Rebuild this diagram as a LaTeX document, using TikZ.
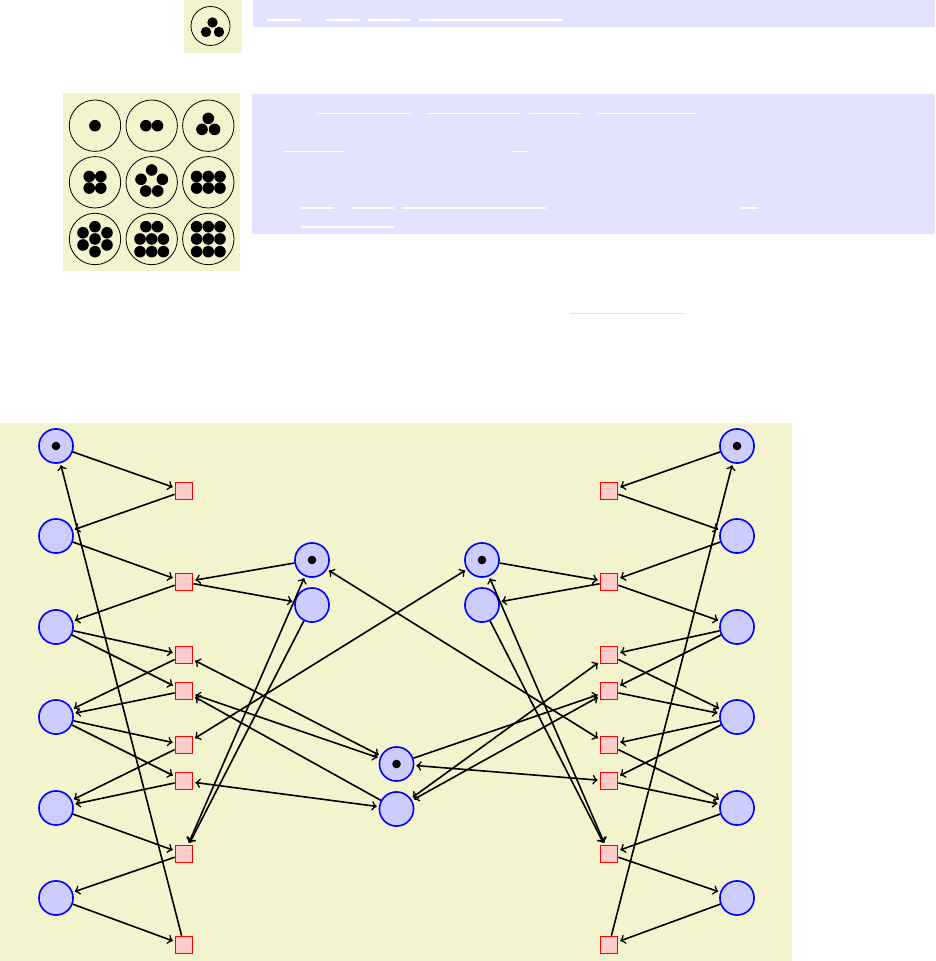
\documentclass[tikz,border=0pt]{standalone}
\usepackage{tikz}
\usetikzlibrary{petri,arrows}
\usepackage{xcolor}
\definecolor{pagebg}{RGB}{243,244,206}
\definecolor{codebg}{RGB}{227,227,255}
\definecolor{rulegray}{RGB}{225,225,225}
\tikzset{
  >=to,
  netarc/.style={->,thick,shorten >=1pt},
  bothways/.style={<->,shorten <=1pt},
}

\begin{document}
\begin{tikzpicture}[
  x=0.5pt, y=-0.5pt,
  place/.style={circle,draw=blue,fill=blue!20,thick,inner sep=0pt,minimum size=6mm},
  transition/.style={rectangle,draw=red,fill=red!20,thick,inner sep=0pt,minimum size=3mm},
  tile/.style={circle,draw,thin,inner sep=0pt,minimum size=25.7pt},
  tokendot/.style={circle,fill,inner sep=0pt,minimum size=5.8pt},
  link/.style={white,line width=0.6pt}
]
\useasboundingbox (0,0) rectangle (935,961);

% three tokens, small
\fill[pagebg] (184,0) rectangle (241.7,53);
\node[tile,minimum size=19.5pt] (three) at (210.5,26) {};
\foreach \dx/\dy [count=\i] in {2/-3.5,-4.5/6,8.5/6}
  \node[tokendot,minimum size=5.2pt] (three-\i) at ([shift={(\dx,\dy)}]three) {};
\fill[codebg] (252.7,0) rectangle (935,26.7);
\draw[link,line width=1pt] (267,20) -- (301,20) (326,20) -- (360,20)
  (368,20) -- (411,20) (419,20) -- (563,20);

% one to nine tokens
\fill[pagebg] (62.7,92.7) rectangle (240,271);
\node[tile] (g1) at (95,125.7) {};
\node[tile] (g2) at (151.7,125.7) {};
\node[tile] (g3) at (208.3,125.7) {};
\node[tile] (g4) at (95,182.3) {};
\node[tile] (g5) at (151.7,182.3) {};
\node[tile] (g6) at (208.3,182.3) {};
\node[tile] (g7) at (95,239) {};
\node[tile] (g8) at (151.7,239) {};
\node[tile] (g9) at (208.3,239) {};
\node[tokendot] (g1-1) at (g1) {};
\foreach \dx/\dy [count=\i] in {-5.8/0,5.8/0}
  \node[tokendot] (g2-\i) at ([shift={(\dx,\dy)}]g2) {};
\foreach \dx/\dy [count=\i] in {0/-7.3,-6.3/3.7,6.3/3.7}
  \node[tokendot] (g3-\i) at ([shift={(\dx,\dy)}]g3) {};
\foreach \dx/\dy [count=\i] in {-5.8/-5.8,5.8/-5.8,-5.8/5.8,5.8/5.8}
  \node[tokendot] (g4-\i) at ([shift={(\dx,\dy)}]g4) {};
\foreach \dx/\dy [count=\i] in {0/-12.3,-10.7/-3,10.7/-3,-6/8.7,6/8.7}
  \node[tokendot] (g5-\i) at ([shift={(\dx,\dy)}]g5) {};
\foreach \dx/\dy [count=\i] in {-11.7/-5.8,0/-5.8,11.7/-5.8,-11.7/5.8,0/5.8,11.7/5.8}
  \node[tokendot] (g6-\i) at ([shift={(\dx,\dy)}]g6) {};
\foreach \dx/\dy [count=\i] in {0/0,0/-12.3,0/12.7,-12/-6.2,12/-6.2,-12/6,12/6}
  \node[tokendot] (g7-\i) at ([shift={(\dx,\dy)}]g7) {};
\foreach \dx/\dy [count=\i] in {-5.8/-12.3,5.8/-12.3,-11.7/0,0/0,11.7/0,-11.7/12.7,0/12.7,11.7/12.7}
  \node[tokendot] (g8-\i) at ([shift={(\dx,\dy)}]g8) {};
\foreach \dx/\dy [count=\i] in {-11.7/-12.3,0/-12.3,11.7/-12.3,-11.7/0,0/0,11.7/0,-11.7/12.7,0/12.7,11.7/12.7}
  \node[tokendot] (g9-\i) at ([shift={(\dx,\dy)}]g9) {};
\fill[codebg] (252,94) rectangle (935,234);
\draw[link] (317,113.3) -- (411,113.3) (428,113.3) -- (521,113.3)
  (529,113.3) -- (580,113.3) (597,113.3) -- (697,113.3);
\draw[link] (284,151.3) -- (343,151.3) (512,151.3) -- (529,151.3);
\draw[link] (301,208) -- (334,208) (351,208) -- (394,208)
  (402,208) -- (546,208) (741,208) -- (757.5,208);
\draw[link] (301,227) -- (394,227);

\draw[rulegray,line width=0.5pt] (570,313.3) -- (685,313.3);

% the net
\fill[pagebg] (0,423) rectangle (792,961);

\node[place,tokens=1] (pl1) at (56,446) {};
\node[place] (pl2) at (56,536) {};
\node[place] (pl3) at (56,627) {};
\node[place] (pl4) at (56,717) {};
\node[place] (pl5) at (56,808) {};
\node[place] (pl6) at (56,898) {};
\node[place,tokens=1] (pr1) at (737,446) {};
\node[place] (pr2) at (737,536) {};
\node[place] (pr3) at (737,627) {};
\node[place] (pr4) at (737,717) {};
\node[place] (pr5) at (737,808) {};
\node[place] (pr6) at (737,898) {};

\node[place,tokens=1] (pml1) at (312,560) {};
\node[place] (pml2) at (312,605) {};
\node[place,tokens=1] (pmr1) at (482,560) {};
\node[place] (pmr2) at (482,605) {};
\node[place,tokens=1] (pb1) at (396.5,764) {};
\node[place] (pb2) at (396.5,809) {};

\node[transition] (tl1) at (184,491) {};
\node[transition] (tl2) at (184,582) {};
\node[transition] (tl3) at (184,655) {};
\node[transition] (tl4) at (184,691) {};
\node[transition] (tl5) at (184,745) {};
\node[transition] (tl6) at (184,781) {};
\node[transition] (tl7) at (184,854) {};
\node[transition] (tl8) at (184,945) {};
\node[transition] (tr1) at (609,491) {};
\node[transition] (tr2) at (609,582) {};
\node[transition] (tr3) at (609,655) {};
\node[transition] (tr4) at (609,691) {};
\node[transition] (tr5) at (609,745) {};
\node[transition] (tr6) at (609,781) {};
\node[transition] (tr7) at (609,854) {};
\node[transition] (tr8) at (609,945) {};

% left column
\path[netarc]
  (pl1) edge (tl1)  (tl1) edge (pl2)
  (pl2) edge (tl2)  (tl2) edge (pl3)
  (pl3) edge (tl3)  (pl3) edge (tl4)
  (tl3) edge (pl4)  (tl4) edge (pl4)
  (pl4) edge (tl5)  (pl4) edge (tl6)
  (tl5) edge (pl5)  (tl6) edge (pl5)
  (pl5) edge (tl7)  (tl7) edge (pl6)
  (pl6) edge (tl8)  (tl8) edge (pl1);
% right column
\path[netarc]
  (pr1) edge (tr1)  (tr1) edge (pr2)
  (pr2) edge (tr2)  (tr2) edge (pr3)
  (pr3) edge (tr3)  (pr3) edge (tr4)
  (tr3) edge (pr4)  (tr4) edge (pr4)
  (pr4) edge (tr5)  (pr4) edge (tr6)
  (tr5) edge (pr5)  (tr6) edge (pr5)
  (pr5) edge (tr7)  (tr7) edge (pr6)
  (pr6) edge (tr8)  (tr8) edge (pr1);
% shared places
\path[netarc]
  (pml1) edge (tl2)  (tl2) edge (pml2)
  (pml2) edge (tl7)  (tl7) edge[bothways] (pml1)
  (tl5) edge[bothways] (pmr1)
  (tl3) edge[bothways] (pb1)  (tl4) edge[bothways] (pb1)
  (pb2) edge (tl4)  (tl6) edge[bothways] (pb2)
  (pmr1) edge (tr2)  (tr2) edge (pmr2)
  (pmr2) edge (tr7)  (tr7) edge[bothways] (pmr1)
  (tr5) edge[bothways] (pml1)
  (tr3) edge[bothways] (pb2)  (tr4) edge[bothways] (pb2)
  (pb1) edge (tr4)  (tr6) edge[bothways] (pb1);
\end{tikzpicture}
\end{document}
